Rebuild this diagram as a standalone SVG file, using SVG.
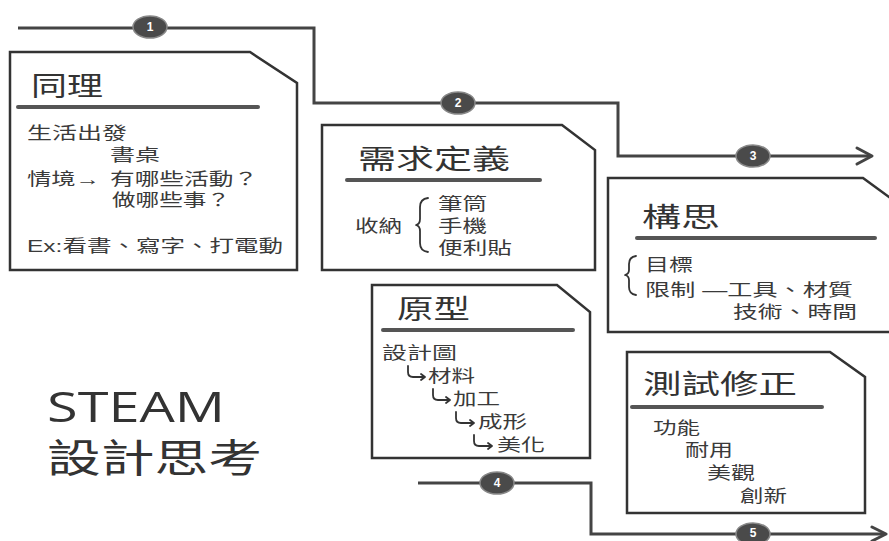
<svg xmlns="http://www.w3.org/2000/svg" width="889" height="541" viewBox="0 0 889 541">
<defs>
<style>
.box{fill:#fff;stroke:#333;stroke-width:2.5;stroke-linejoin:miter}
.ul{stroke:#555;stroke-width:4;stroke-linecap:round}
.t{font-family:"Liberation Sans","Noto Sans CJK TC",sans-serif;fill:#333}
.title{font-size:27px;fill:#333}
.body{font-size:17px;fill:#3a3a3a}
.conn{fill:none;stroke:#444;stroke-width:3}
.arr{fill:none;stroke:#444;stroke-width:3;stroke-linecap:round;stroke-linejoin:round}
.badge{fill:#4a4a4a;stroke:#888;stroke-width:1.5}
.num{font-family:"Liberation Sans",sans-serif;font-size:12px;font-weight:bold;fill:#fff;text-anchor:middle}
.hook{fill:none;stroke:#333;stroke-width:1.8;stroke-linecap:round;stroke-linejoin:round}
.big{font-family:"Open Sans","Noto Sans CJK TC",sans-serif;fill:#333}
</style>
</defs>
<rect width="889" height="541" fill="#fff"/>

<g id="connectors">
<path class="conn" d="M18,28 H314 V103 H618 V156 H871"/>
<path class="arr" d="M857,148 L872,156 L857,164"/>
<path class="conn" d="M418,483 H591 V534 H884"/>
<path class="arr" d="M872,527 L886,534 L872,541"/>
<ellipse class="badge" cx="150" cy="27" rx="17" ry="11"/>
<text class="num" x="150" y="31">1</text>
<ellipse class="badge" cx="458" cy="103" rx="17" ry="11"/>
<text class="num" x="458" y="107">2</text>
<ellipse class="badge" cx="753" cy="156" rx="17" ry="11"/>
<text class="num" x="753" y="160">3</text>
<ellipse class="badge" cx="497" cy="483" rx="17" ry="11"/>
<text class="num" x="497" y="487">4</text>
<ellipse class="badge" cx="753" cy="534" rx="17" ry="11"/>
<text class="num" x="753" y="537" font-size="11">5</text>
</g>

<g id="node-empathize">
<path class="box" d="M10,52 H250 L297,83 V270 H10 Z"/>
<text class="t title" x="31" y="96" textLength="72" lengthAdjust="spacingAndGlyphs">同理</text>
<line class="ul" x1="18" y1="107" x2="258" y2="107"/>
<text class="t body" x="27" y="139" textLength="100" lengthAdjust="spacingAndGlyphs">生活出發</text>
<text class="t body" x="110" y="161" textLength="50" lengthAdjust="spacingAndGlyphs">書桌</text>
<text class="t body" x="27" y="185" textLength="73" lengthAdjust="spacingAndGlyphs">情境→</text>
<text class="t body" x="110" y="185" textLength="148" lengthAdjust="spacingAndGlyphs">有哪些活動？</text>
<text class="t body" x="112" y="206" textLength="118" lengthAdjust="spacingAndGlyphs">做哪些事？</text>
<text class="t body" x="27" y="252" textLength="256" lengthAdjust="spacingAndGlyphs">Ex:看書、寫字、打電動</text>
</g>

<g id="node-define">
<path class="box" d="M322,125 H562 L595,150 V270 H322 Z"/>
<text class="t title" x="358" y="169" font-size="28" textLength="152" lengthAdjust="spacingAndGlyphs">需求定義</text>
<line class="ul" x1="347" y1="180" x2="540" y2="180"/>
<text class="t body" x="355" y="232" textLength="47" lengthAdjust="spacingAndGlyphs">收納</text>
<path class="hook" d="M428,198 Q420,199 420,207 V219 Q420,224 416,225 Q420,226 420,231 V243 Q420,251 428,252"/>
<text class="t body" x="438" y="210" textLength="49" lengthAdjust="spacingAndGlyphs">筆筒</text>
<text class="t body" x="438" y="232" textLength="49" lengthAdjust="spacingAndGlyphs">手機</text>
<text class="t body" x="438" y="254" textLength="74" lengthAdjust="spacingAndGlyphs">便利貼</text>
</g>

<g id="node-ideate">
<path class="box" d="M608,178 H863 L900,205 V332 H608 Z"/>
<text class="t title" x="642" y="227" font-size="28" textLength="78" lengthAdjust="spacingAndGlyphs">構思</text>
<line class="ul" x1="637" y1="238" x2="875" y2="238"/>
<path class="hook" d="M636,256 Q629,257 629,264 V270 Q629,274 625,275 Q629,276 629,280 V287 Q629,294 636,295"/>
<text class="t body" x="645" y="271" textLength="48" lengthAdjust="spacingAndGlyphs">目標</text>
<text class="t body" x="645" y="296" textLength="208" lengthAdjust="spacingAndGlyphs">限制 —工具、材質</text>
<text class="t body" x="733" y="318" textLength="124" lengthAdjust="spacingAndGlyphs">技術、時間</text>
</g>

<g id="node-prototype">
<path class="box" d="M372,285 H557 L590,312 V458 H372 Z"/>
<text class="t title" x="397" y="319" textLength="73" lengthAdjust="spacingAndGlyphs">原型</text>
<line class="ul" x1="383" y1="330" x2="573" y2="330"/>
<text class="t body" x="382" y="359" textLength="75" lengthAdjust="spacingAndGlyphs">設計圖</text>
<path class="hook" d="M408,366 V372 Q408,377 413,377 H425 M421,374 L425,377 L421,380"/>
<text class="t body" x="428" y="382" textLength="47" lengthAdjust="spacingAndGlyphs">材料</text>
<path class="hook" d="M433,389 V395 Q433,400 438,400 H450 M446,397 L450,400 L446,403"/>
<text class="t body" x="453" y="405" textLength="47" lengthAdjust="spacingAndGlyphs">加工</text>
<path class="hook" d="M456,412 V418 Q456,423 461,423 H474 M470,420 L474,423 L470,426"/>
<text class="t body" x="478" y="428" textLength="49" lengthAdjust="spacingAndGlyphs">成形</text>
<path class="hook" d="M474,435 V441 Q474,446 479,446 H492 M488,443 L492,446 L488,449"/>
<text class="t body" x="497" y="451" textLength="48" lengthAdjust="spacingAndGlyphs">美化</text>
</g>

<g id="node-test">
<path class="box" d="M627,352 H830 L865,377 V513 H627 Z"/>
<text class="t title" x="643" y="394" font-size="28" textLength="154" lengthAdjust="spacingAndGlyphs">測試修正</text>
<line class="ul" x1="632" y1="407" x2="822" y2="407"/>
<text class="t body" x="653" y="434" textLength="47" lengthAdjust="spacingAndGlyphs">功能</text>
<text class="t body" x="685" y="456" textLength="48" lengthAdjust="spacingAndGlyphs">耐用</text>
<text class="t body" x="707" y="479" textLength="48" lengthAdjust="spacingAndGlyphs">美觀</text>
<text class="t body" x="740" y="502" textLength="47" lengthAdjust="spacingAndGlyphs">創新</text>
</g>

<g id="label-steam">
<text class="big" x="47" y="422" font-size="42" textLength="178" lengthAdjust="spacingAndGlyphs">STEAM</text>
<text class="big" x="47" y="472" font-size="39" textLength="215" lengthAdjust="spacingAndGlyphs">設計思考</text>
</g>
</svg>
